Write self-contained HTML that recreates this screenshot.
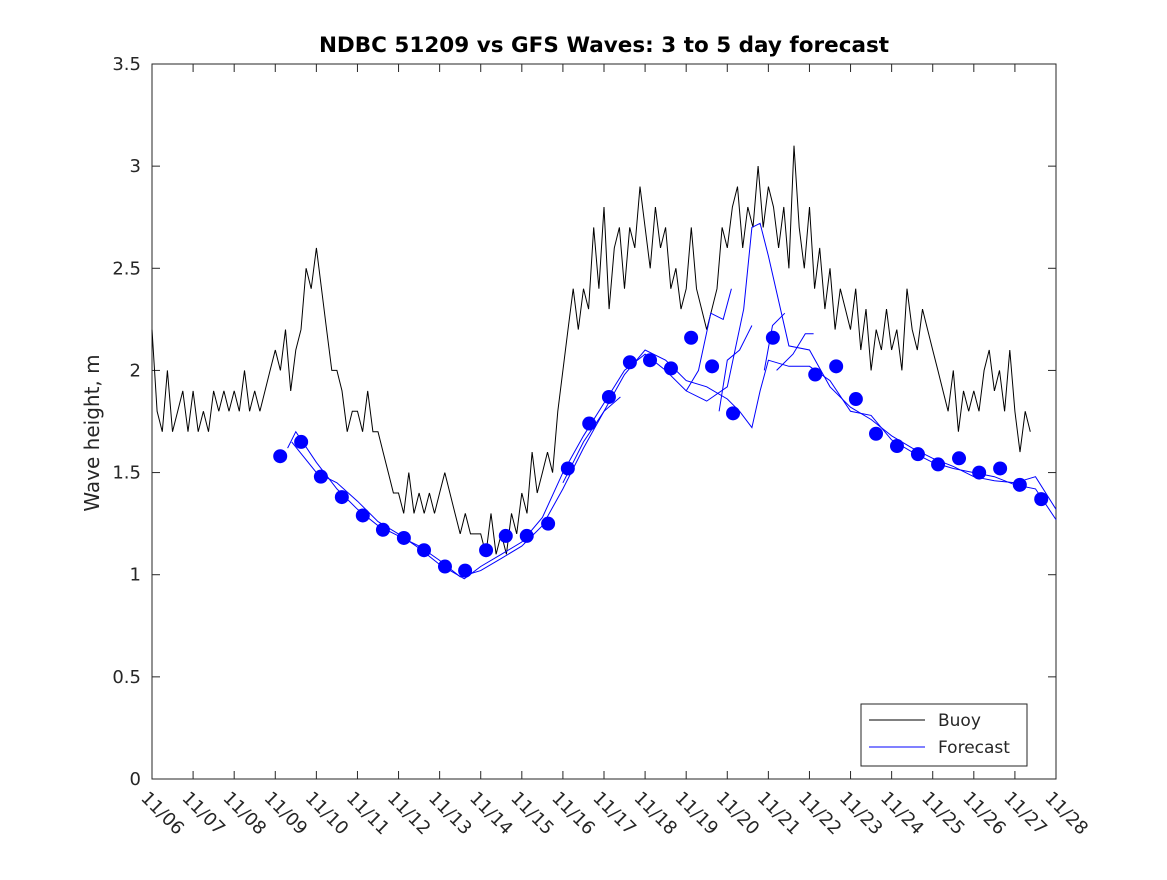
<!DOCTYPE html>
<html><head><meta charset="utf-8"><style>
body{margin:0;background:#fff}
svg text{font-family:"DejaVu Sans","Liberation Sans",sans-serif}
</style></head><body>
<svg id="chart" width="1167" height="875" viewBox="0 0 1167 875">
<rect x="0" y="0" width="1167" height="875" fill="#fff"/>
<text x="604" y="52" text-anchor="middle" font-size="21.5" font-weight="bold">NDBC 51209 vs GFS Waves: 3 to 5 day forecast</text>
<text transform="translate(99,433) rotate(-90)" text-anchor="middle" font-size="20" fill="#262626">Wave height, m</text>
<rect x="152" y="64" width="904" height="715" fill="none" stroke="#262626" stroke-width="1"/>
<g id="axes"></g>
<g id="series"></g>
<g>
<rect x="861" y="704" width="166" height="62" fill="#fff" stroke="#262626"/>
<line x1="869" y1="720" x2="925" y2="720" stroke="#000"/>
<text x="938" y="726" font-size="17" fill="#262626">Buoy</text>
<line x1="869" y1="747" x2="925" y2="747" stroke="#00f"/>
<text x="938" y="753" font-size="17" fill="#262626">Forecast</text>
</g>
</svg>
<script>
const dayLabels=["11/06","11/07","11/08","11/09","11/10","11/11","11/12","11/13","11/14","11/15","11/16","11/17","11/18","11/19","11/20","11/21","11/22","11/23","11/24","11/25","11/26","11/27","11/28"];
const yTicks=[0,0.5,1,1.5,2,2.5,3,3.5];
const buoyStart=0, buoyStep=0.125;
const buoyValues=[2.2,1.8,1.7,2.0,1.7,1.8,1.9,1.7,1.9,1.7,1.8,1.7,1.9,1.8,1.9,1.8,1.9,1.8,2.0,1.8,1.9,1.8,1.9,2.0,
2.1,2.0,2.2,1.9,2.1,2.2,2.5,2.4,2.6,2.4,2.2,2.0,2.0,1.9,1.7,1.8,1.8,1.7,1.9,1.7,1.7,1.6,1.5,1.4,
1.4,1.3,1.5,1.3,1.4,1.3,1.4,1.3,1.4,1.5,1.4,1.3,1.2,1.3,1.2,1.2,1.2,1.1,1.3,1.1,1.2,1.1,1.3,1.2,
1.4,1.3,1.6,1.4,1.5,1.6,1.5,1.8,2.0,2.2,2.4,2.2,2.4,2.3,2.7,2.4,2.8,2.3,2.6,2.7,2.4,2.7,2.6,2.9,
2.7,2.5,2.8,2.6,2.7,2.4,2.5,2.3,2.4,2.7,2.4,2.3,2.2,2.3,2.4,2.7,2.6,2.8,2.9,2.6,2.8,2.7,3.0,2.7,
2.9,2.8,2.6,2.8,2.5,3.1,2.7,2.5,2.8,2.4,2.6,2.3,2.5,2.2,2.4,2.3,2.2,2.4,2.1,2.3,2.0,2.2,2.1,2.3,
2.1,2.2,2.0,2.4,2.2,2.1,2.3,2.2,2.1,2.0,1.9,1.8,2.0,1.7,1.9,1.8,1.9,1.8,2.0,2.1,1.9,2.0,1.8,2.1,
1.8,1.6,1.8,1.7];
const dotTimes=[3.12,3.63,4.11,4.62,5.13,5.62,6.13,6.62,7.13,7.62,8.13,8.61,9.12,9.64,10.12,10.64,11.12,11.63,12.12,12.63,13.12,13.63,14.14,15.11,16.14,16.65,17.13,17.62,18.13,18.64,19.13,19.64,20.13,20.64,21.12,21.64];
const dotValues=[1.58,1.65,1.48,1.38,1.29,1.22,1.18,1.12,1.04,1.02,1.12,1.19,1.19,1.25,1.52,1.74,1.87,2.04,2.05,2.01,2.16,2.02,1.79,2.16,1.98,2.02,1.86,1.69,1.63,1.59,1.54,1.57,1.50,1.52,1.44,1.37];
const fcMainT=[3.3,3.5,4.0,4.5,5.0,5.5,6.0,6.5,7.0,7.5,8.0,8.5,9.0,9.5,10.0,10.5,11.0,11.5,12.0,12.5,13.0,13.5,14.0,14.3,14.6,14.8,15.0,15.5,16.0,16.5,17.0,17.5,18.0,18.5,19.0,19.5,20.0,20.5,21.0,21.5,22.0];
const fcMainV=[1.62,1.70,1.55,1.42,1.32,1.24,1.19,1.14,1.07,0.99,1.02,1.08,1.14,1.24,1.42,1.62,1.80,1.98,2.10,2.05,1.95,1.92,1.86,1.80,1.72,1.90,2.05,2.02,2.02,1.95,1.80,1.78,1.66,1.60,1.55,1.52,1.50,1.48,1.44,1.42,1.27];
const fcAltT=[3.4,4.0,4.5,5.0,5.5,6.0,6.5,7.0,7.6,8.0,8.5,9.0,9.5,10.0,10.5,11.0,11.5,12.0,12.5,13.0,13.5,14.0,14.4,14.6,14.8,15.0,15.5,16.0,16.5,17.0,17.5,18.0,18.5,19.0,19.5,20.0,20.5,21.0,21.5,22.0];
const fcAltV=[1.65,1.50,1.45,1.36,1.26,1.20,1.13,1.05,0.98,1.04,1.10,1.16,1.28,1.50,1.68,1.84,2.00,2.08,2.00,1.90,1.85,1.92,2.30,2.70,2.72,2.56,2.12,2.10,1.92,1.82,1.76,1.68,1.62,1.57,1.53,1.48,1.46,1.45,1.48,1.32];
const fcRun3T=[13.0,13.3,13.6,13.9,14.1];
const fcRun3V=[1.90,2.00,2.28,2.25,2.40];
const fcRun4T=[13.8,14.0,14.3,14.5,14.6];
const fcRun4V=[1.80,2.05,2.10,2.18,2.22];
const fcRun5T=[14.9,15.1,15.4];
const fcRun5V=[2.00,2.22,2.28];
const fcRun6T=[15.2,15.6,15.9,16.1];
const fcRun6V=[2.00,2.08,2.18,2.18];
const fcRun7T=[10.0,10.5,11.0,11.4];
const fcRun7V=[1.45,1.65,1.80,1.87];

const NS="http://www.w3.org/2000/svg";
const X0=152,X1=1056,Y0=779,Y1=64,DAYS=22,YMAX=3.5;
function xs(t){return X0+(X1-X0)*t/DAYS;}
function ys(v){return Y0-(Y0-Y1)*v/YMAX;}
function mk(tag,attrs,parent){const e=document.createElementNS(NS,tag);for(const k in attrs)e.setAttribute(k,attrs[k]);parent.appendChild(e);return e;}
const axes=document.getElementById('axes'), series=document.getElementById('series');
dayLabels.forEach((lab,i)=>{
  const x=xs(i);
  if(i>0&&i<DAYS){
    const t1=mk('line',{x1:x,y1:Y0,x2:x,y2:Y0-8,stroke:'#262626'},axes);
    
    
    const t2=mk('line',{x1:x,y1:Y1,x2:x,y2:Y1+8,stroke:'#262626'},axes);
    
    
  }
  const tx=mk('text',{transform:`translate(${x-12},${Y0+20}) rotate(45)`,'font-size':'18',fill:'#262626'},axes);
  tx.textContent=lab;
  
  
});
yTicks.forEach(v=>{
  const y=ys(v);
  if(v>0&&v<YMAX){
    const a=mk('line',{x1:X0,y1:y,x2:X0+8,y2:y,stroke:'#262626'},axes);
    
    
    const b=mk('line',{x1:X1,y1:y,x2:X1-8,y2:y,stroke:'#262626'},axes);
    
    
  }
  const tx=mk('text',{x:X0-11,y:y+6,'text-anchor':'end','font-size':'18',fill:'#262626'},axes);
  tx.textContent=String(v);
  
  
});
const bp=buoyValues.map((v,i)=>xs(buoyStart+i*buoyStep).toFixed(1)+','+ys(v).toFixed(1)).join(' ');
const buoy=mk('polyline',{points:bp,fill:'none',stroke:'#000','stroke-width':'1'},series);


[[fcMainT,fcMainV],[fcAltT,fcAltV],[fcRun3T,fcRun3V],[fcRun4T,fcRun4V],[fcRun5T,fcRun5V],[fcRun6T,fcRun6V],[fcRun7T,fcRun7V]].forEach(([T,V])=>{
  const p=T.map((t,i)=>xs(t).toFixed(1)+','+ys(V[i]).toFixed(1)).join(' ');
  const l=mk('polyline',{points:p,fill:'none',stroke:'#00f','stroke-width':'1'},series);
  
  
});
dotTimes.forEach((t,i)=>{
  const c=mk('circle',{cx:xs(t),cy:ys(dotValues[i]),r:7,fill:'#00f'},series);
  
  
});
</script>
</body></html>
